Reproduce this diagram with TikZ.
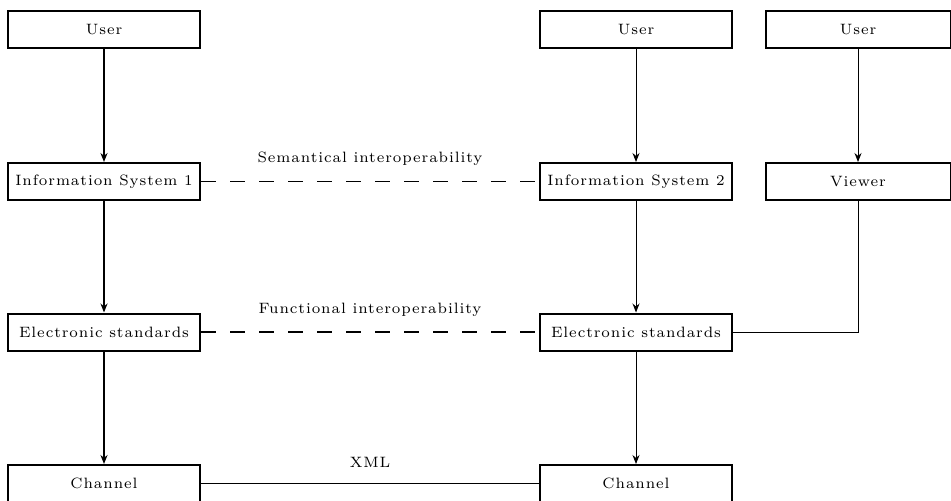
\documentclass[tikz,border=0pt]{standalone}
\usepackage{fontspec}
\setmainfont{Latin Modern Roman}[LetterSpace=6]
\usetikzlibrary{arrows.meta}
\begin{document}
\begin{tikzpicture}[x=0.5pt,y=-0.5pt,>={Stealth[length=4.5pt,width=3.5pt]},
  font=\fontsize{7.5}{8}\selectfont,
  box/.style={draw,line width=1pt,minimum width=96pt,minimum height=18.5pt,inner sep=0pt},
  smallbox/.style={box,minimum width=92.5pt},
  link/.style={line width=0.9pt},
  thin link/.style={line width=0.5pt},
  dashlink/.style={line width=0.8pt,dash pattern=on 7.5pt off 7pt}]
\useasboundingbox (0,0) rectangle (951,500);
% left column
\node[box](u1) at (104,29.5) {User};
\node[box](is1) at (104,181.5) {Information System 1};
\node[box](es1) at (104,332) {Electronic standards};
\node[box](ch1) at (104,483.5) {Channel};
% middle column
\node[box](u2) at (636,29.5) {User};
\node[box](is2) at (636,181.5) {Information System 2};
\node[box](es2) at (636,332) {Electronic standards};
\node[box](ch2) at (636,483.5) {Channel};
% right column
\node[smallbox](u3) at (858,29.5) {User};
\node[smallbox](view) at (858,181.5) {Viewer};

\draw[->,link](u1)--(is1);
\draw[->,link](is1)--(es1);
\draw[->,link](es1)--(ch1);
\draw[->,thin link](u2)--(is2);
\draw[->,thin link](is2)--(es2);
\draw[->,thin link](es2)--(ch2);
\draw[->,thin link](u3)--(view);
\draw[thin link](es2.east)-|(view.south);

\draw[dashlink](is1)--node[above=4pt]{Semantical interoperability}(is2);
\draw[dashlink](es1)--node[above=4pt]{Functional interoperability}(es2);
\draw[link](ch1)--node[above=4pt]{XML}(ch2);
\end{tikzpicture}
\end{document}
